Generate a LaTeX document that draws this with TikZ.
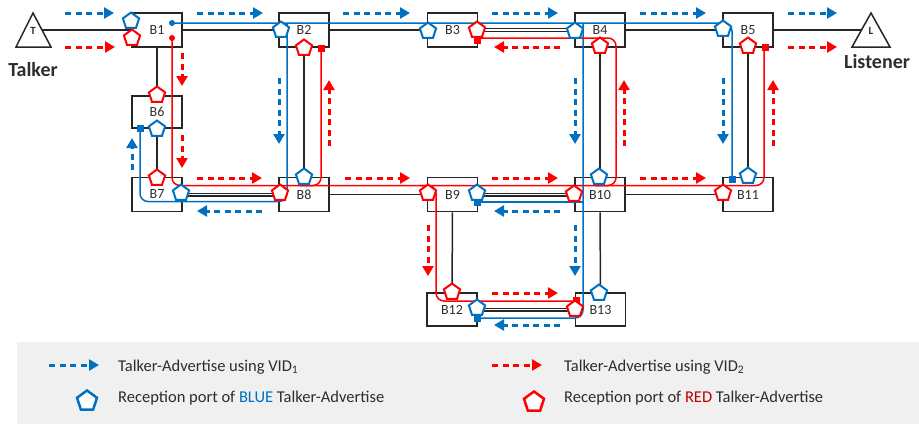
\documentclass[tikz,border=0pt]{standalone}
\usepackage{fontspec}
\setmainfont{Carlito}
\usepackage{tikz}
\usetikzlibrary{arrows.meta, calc, shapes, positioning}
\usepackage{xcolor}

\definecolor{vidblue}{RGB}{0,112,192}
\definecolor{vidred}{RGB}{255,0,0}
\definecolor{darkred}{RGB}{192,0,0}
\definecolor{linkgray}{RGB}{38,38,38}
\definecolor{txtgray}{RGB}{45,45,45}
\definecolor{legendbg}{RGB}{240,240,240}

\begin{document}
\begin{tikzpicture}[x=1pt, y=-1pt,
  bridge/.style={draw=linkgray, line width=1.6pt, minimum width=50pt, minimum height=34pt,
    inner sep=0pt, text=txtgray, font=\fontsize{14}{15}\selectfont},
  link/.style={draw=linkgray, line width=1.5pt},
  blocked/.style={draw=linkgray, line width=1.1pt, double=white, double distance=1.8pt},
  bluepath/.style={vidblue, line width=1.5pt, rounded corners=8pt},
  redpath/.style={vidred, line width=1.5pt, rounded corners=8pt},
  blueport/.style={regular polygon, regular polygon sides=5, draw=vidblue, fill=white,
    line width=2pt, minimum size=17pt, inner sep=0pt},
  redport/.style={blueport, draw=vidred},
  bluesq/.style={fill=vidblue, minimum size=7pt, inner sep=0pt},
  redsq/.style={fill=vidred, minimum size=7pt, inner sep=0pt},
  bluead/.style={vidblue, line width=3pt, dash pattern=on 6pt off 4.5pt,
    -{Triangle[length=10pt, width=11pt]}},
  redad/.style={bluead, vidred},
  legtext/.style={anchor=west, inner sep=0pt, text=txtgray, font=\fontsize{16.5}{18}\selectfont}
]
  \useasboundingbox (0,0) rectangle (919,424);

  % talker and listener
  \draw[linkgray, line width=1.5pt] (33,13) -- (51,47) -- (16,47) -- cycle;
  \node[text=txtgray, font=\bfseries\fontsize{11}{11}\selectfont] (tmark) at (33,31) {T};
  \node[text=txtgray, font=\bfseries\fontsize{20}{22}\selectfont] (talker) at (33,70) {Talker};
  \coordinate (tport) at (42,30);
  \draw[linkgray, line width=1.5pt] (871,13) -- (890,47) -- (852,47) -- cycle;
  \node[text=txtgray, font=\bfseries\fontsize{11}{11}\selectfont] (lmark) at (871,31) {L};
  \node[text=txtgray, font=\bfseries\fontsize{20}{22}\selectfont] (listener) at (877,62) {Listener};
  \coordinate (lport) at (861,30);

  % bridges
  \node[bridge] (b1) at (157,30) {B1};
  \node[bridge] (b2) at (304,30) {B2};
  \node[bridge] (b3) at (452.5,30) {B3};
  \node[bridge] (b4) at (600,30) {B4};
  \node[bridge] (b5) at (748,30) {B5};
  \node[bridge, minimum height=32pt] (b6) at (157,112) {B6};
  \node[bridge] (b7) at (157,194.5) {B7};
  \node[bridge] (b8) at (304,194.5) {B8};
  \node[bridge] (b9) at (452.5,194.5) {B9};
  \node[bridge] (b10) at (600,194.5) {B10};
  \node[bridge] (b11) at (748,194.5) {B11};
  \node[bridge, minimum height=33pt] (b12) at (452,309.5) {B12};
  \node[bridge, minimum height=33pt] (b13) at (600.5,309.5) {B13};

  % links
  \draw[link] (tport) -- (b1);
  \draw[link] (b1) -- (b2);
  \draw[link] (b2) -- (b3);
  \draw[blocked] (b3) -- (b4);
  \draw[link] (b4) -- (b5);
  \draw[link] (b5) -- (lport);
  \draw[link] (b1) -- (b6);
  \draw[link] (b6) -- (b7);
  \draw[link] (b2) -- (b8);
  \draw[link] (b4) -- (b10);
  \draw[link] (b5) -- (b11);
  \draw[blocked] (b7) -- (b8);
  \draw[link] (b8) -- (b9);
  \draw[blocked] (b9) -- (b10);
  \draw[link] (b10) -- (b11);
  \draw[link] (b9) -- (b12);
  \draw[link] (b10) -- (b13);
  \draw[blocked] (b12) -- (b13);

  % tree of VID1
  \fill[vidblue] (172,23) circle (3pt);
  \draw[bluepath] (172,23) -- (732,23) -- (732,179);
  \draw[bluepath] (287,23) -- (287,201.5) -- (140,201.5) -- (140,128);
  \draw[bluepath] (583,23) -- (583,318) -- (477,318);
  \draw[bluepath] (583,202) -- (477,202);

  % tree of VID2
  \fill[vidred] (172,38) circle (3pt);
  \draw[redpath] (172,38) -- (172,185.5) -- (764,185.5) -- (764,47);
  \draw[redpath] (321,48) -- (321,185.5) -- (300,185.5);
  \draw[redpath] (477,38) -- (616,38) -- (616,185.5) -- (595,185.5);
  \draw[redpath] (420,185.5) -- (436,185.5) -- (436,301) -- (576,301);

  % port squares
  \node[bluesq] (sq6) at (140,128.5) {};
  \node[bluesq] (sq11) at (732,179) {};
  \node[bluesq] (sq9) at (477,202) {};
  \node[bluesq] (sq12) at (477,318) {};
  \node[redsq] (sq2) at (321,48) {};
  \node[redsq] (sq3) at (477,40) {};
  \node[redsq] (sq5) at (765,47) {};
  \node[redsq] (sq13) at (576,300) {};

  % reception ports
  \node[blueport] (bp1) at (131,21) {};
  \node[blueport] (bp2) at (281,30) {};
  \node[blueport] (bp3) at (428,31) {};
  \node[blueport] (bp4) at (575,31) {};
  \node[blueport] (bp5) at (723,29) {};
  \node[blueport] (bp6) at (157,129) {};
  \node[blueport] (bp7) at (181,193) {};
  \node[blueport] (bp8) at (304,177) {};
  \node[blueport] (bp9) at (477,193) {};
  \node[blueport] (bp10) at (599,177) {};
  \node[blueport] (bp11) at (748,176) {};
  \node[blueport] (bp12) at (477,308) {};
  \node[blueport] (bp13) at (599,293) {};
  \node[redport] (rp1) at (132,38) {};
  \node[redport] (rp2) at (304,48) {};
  \node[redport] (rp3) at (477,30) {};
  \node[redport] (rp4) at (600,46) {};
  \node[redport] (rp5) at (748,46) {};
  \node[redport] (rp6) at (157,95) {};
  \node[redport] (rp7) at (157,178) {};
  \node[redport] (rp8) at (280,193) {};
  \node[redport] (rp9) at (428,193) {};
  \node[redport] (rp10) at (574,194) {};
  \node[redport] (rp11) at (723,193) {};
  \node[redport] (rp12) at (452,292) {};
  \node[redport] (rp13) at (575,309) {};

  % talker-advertise of VID1
  \draw[bluead] (65,13) -- (114,13);
  \draw[bluead] (197,13) -- (263,13);
  \draw[bluead] (343,13) -- (410,13);
  \draw[bluead] (492,13) -- (558,13);
  \draw[bluead] (640,13) -- (706,13);
  \draw[bluead] (788,13) -- (837,13);
  \draw[bluead] (132,170) -- (132,138);
  \draw[bluead] (279,78) -- (279,144);
  \draw[bluead] (575,78) -- (575,144);
  \draw[bluead] (723,78) -- (723,144);
  \draw[bluead] (262,211) -- (197,211);
  \draw[bluead] (560,211) -- (494,211);
  \draw[bluead] (575,225) -- (575,276);
  \draw[bluead] (560,325) -- (494,325);

  % talker-advertise of VID2
  \draw[redad] (65,47) -- (115,47);
  \draw[redad] (788,47) -- (837,47);
  \draw[redad] (560,47) -- (494,47);
  \draw[redad] (182,53) -- (182,86);
  \draw[redad] (182,135) -- (182,168);
  \draw[redad] (329,146) -- (329,80);
  \draw[redad] (624,146) -- (624,80);
  \draw[redad] (773,146) -- (773,80);
  \draw[redad] (197,178) -- (262,178);
  \draw[redad] (345,178) -- (410,178);
  \draw[redad] (492,178) -- (558,178);
  \draw[redad] (640,178) -- (706,178);
  \draw[redad] (428,225) -- (428,276);
  \draw[redad] (492,293) -- (558,293);

  % legend
  \fill[legendbg] (17,342) rectangle (919,424);
  \draw[bluead] (49,365) -- (99,365);
  \node[legtext] (lg1) at (118,367) {Talker-Advertise using VID\textsubscript{1}};
  \draw[redad] (492,365) -- (542,365);
  \node[legtext] (lg2) at (564,367) {Talker-Advertise using VID\textsubscript{2}};
  \node[blueport, minimum size=21pt, line width=2.5pt] (lgb) at (87,401) {};
  \node[legtext] (lg3) at (118,398) {Reception port of \textcolor{vidblue}{BLUE} Talker-Advertise};
  \node[redport, minimum size=21pt, line width=2.5pt] (lgr) at (534,402) {};
  \node[legtext] (lg4) at (564,398) {Reception port of \textcolor{darkred}{RED} Talker-Advertise};
\end{tikzpicture}
\end{document}
